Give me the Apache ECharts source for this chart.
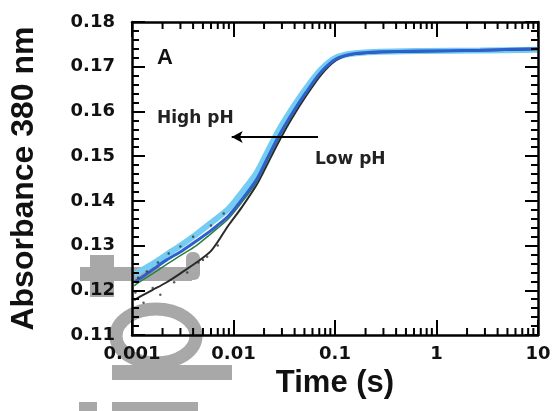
<!DOCTYPE html>
<html>
<head>
<meta charset="utf-8">
<script src="https://cdn.jsdelivr.net/npm/echarts@6/dist/echarts.min.js"></script>
<style>
  html, body { margin: 0; padding: 0; background: #fff; }
  #chart { width: 555px; height: 411px; }
</style>
</head>
<body>
<div id="chart"></div>
<script>
// time points (s)
const times = [0.00105, 0.00125, 0.00157, 0.0022, 0.0031, 0.0043, 0.0061, 0.0089, 0.012, 0.0168,
  0.0211, 0.0276, 0.037, 0.052, 0.073, 0.102, 0.144, 0.25, 0.7, 2.7, 9.8]

// absorbance traces, high pH -> low pH
const highPh = [0.1235, 0.1245, 0.1258, 0.1280, 0.1302, 0.1325, 0.1352, 0.1382, 0.1418, 0.1462,
  0.1505, 0.1556, 0.1603, 0.1652, 0.1694, 0.1720, 0.1729, 0.1733, 0.1735, 0.1736, 0.1738]
const midPh = [0.1218, 0.1229, 0.1245, 0.1268, 0.1288, 0.1310, 0.1335, 0.1366, 0.1402, 0.1447,
  0.1491, 0.1543, 0.1592, 0.1643, 0.1688, 0.1717, 0.1728, 0.1733, 0.1735, 0.1737, 0.1740]
const midLowPh = [0.1210, 0.1222, 0.1236, 0.1258, 0.1280, 0.1300, 0.1328, 0.1360, 0.1396, 0.1441,
  0.1486, 0.1538, 0.1588, 0.1640, 0.1686, 0.1716, 0.1728, 0.1733, 0.1735, 0.1737, 0.1741]
const lowPh = [0.1178, 0.1188, 0.1200, 0.1218, 0.1240, 0.1262, 0.1290, 0.1345, 0.1385, 0.1435,
  0.1478, 0.1530, 0.1582, 0.1635, 0.1682, 0.1714, 0.1727, 0.1732, 0.1734, 0.1736, 0.1739]

// scattered noisy readings at early times
const noiseTimes = [0.00108, 0.00115, 0.0013, 0.0014, 0.0016, 0.0018, 0.0019, 0.0023, 0.0026,
  0.003, 0.0035, 0.004, 0.0045, 0.005, 0.0055, 0.006, 0.007, 0.008]
const noiseAbs = [0.1195, 0.1228, 0.1172, 0.1242, 0.1205, 0.1262, 0.1190, 0.1282, 0.1218,
  0.1298, 0.1240, 0.1320, 0.1262, 0.1268, 0.1275, 0.1345, 0.1300, 0.1372]

const yTicks = ['0.11', '0.12', '0.13', '0.14', '0.15', '0.16', '0.17', '0.18']
const xTicks = ['0.001', '0.01', '0.1', '1', '10']
const xMinorTicks = [0.002, 0.003, 0.004, 0.005, 0.006, 0.007, 0.008, 0.009,
  0.02, 0.03, 0.04, 0.05, 0.06, 0.07, 0.08, 0.09,
  0.2, 0.3, 0.4, 0.5, 0.6, 0.7, 0.8, 0.9,
  2, 3, 4, 5, 6, 7, 8, 9]

// arrow from low pH side to high pH side
const arrowFrom = [0.068, 0.1543]
const arrowTo = [0.0096, 0.1543]

const pair = (ys, xs = times) => xs.map((t, i) => [t, ys[i]])

const chart = echarts.init(document.getElementById('chart'), null, { renderer: 'canvas' })

const tickFont = 'DejaVu Sans'
const titleFont = 'Liberation Sans'
const wm = '#a8a8a8'

const lineSeries = (name, ys, color, width) => ({
  name,
  type: 'line',
  data: pair(ys),
  smooth: 0.3,
  showSymbol: false,
  lineStyle: { color, width },
  z: 3
})

chart.setOption({
  animation: false,
  backgroundColor: '#fff',
  grid: { left: 130, right: 17, top: 22, bottom: 76 },
  xAxis: [
    {
      type: 'log',
      min: 0.001,
      max: 10,
      logBase: 10,
      z: 10,
      name: 'Time (s)',
      nameLocation: 'middle',
      nameGap: 30,
      nameTextStyle: { fontFamily: titleFont, fontWeight: 'bold', fontSize: 31, color: '#111' },
      axisLine: { lineStyle: { color: '#000', width: 2.5 } },
      axisTick: { inside: true, length: 15, lineStyle: { color: '#000', width: 2 } },
      axisLabel: {
        margin: 10,
        fontFamily: tickFont,
        fontWeight: 'bold',
        fontSize: 18,
        color: '#111',
        formatter: (v) => xTicks.find((s) => Math.abs(parseFloat(s) - v) < v * 1e-6) || ''
      },
      splitLine: { show: false }
    },
    {
      type: 'log',
      min: 0.001,
      max: 10,
      logBase: 10,
      z: 10,
      position: 'top',
      axisLine: { lineStyle: { color: '#000', width: 2.5 } },
      axisTick: { inside: true, length: 15, lineStyle: { color: '#000', width: 2 } },
      axisLabel: { show: false },
      splitLine: { show: false }
    }
  ],
  yAxis: [
    {
      type: 'value',
      min: 0.11,
      max: 0.18,
      interval: 0.01,
      z: 10,
      name: 'Absorbance 380 nm',
      nameLocation: 'middle',
      nameRotate: 90,
      nameGap: 92,
      nameTextStyle: { fontFamily: titleFont, fontWeight: 'bold', fontSize: 32, color: '#111' },
      axisLine: { show: true, lineStyle: { color: '#000', width: 2.5 } },
      axisTick: { show: true, inside: true, length: 13, lineStyle: { color: '#000', width: 2 } },
      minorTick: { show: true, splitNumber: 5, length: 7, lineStyle: { color: '#000', width: 2 } },
      axisLabel: {
        margin: 17,
        padding: [0, 0, 8, 0],
        fontFamily: tickFont,
        fontWeight: 'bold',
        fontSize: 18,
        color: '#111',
        formatter: (v) => yTicks[Math.round((v - 0.11) / 0.01)]
      },
      splitLine: { show: false }
    },
    {
      type: 'value',
      min: 0.11,
      max: 0.18,
      interval: 0.01,
      z: 10,
      position: 'right',
      axisLine: { show: true, lineStyle: { color: '#000', width: 2.5 } },
      axisTick: { show: true, inside: true, length: 13, lineStyle: { color: '#000', width: 2 } },
      minorTick: { show: true, splitNumber: 5, length: 7, lineStyle: { color: '#000', width: 2 } },
      axisLabel: { show: false },
      splitLine: { show: false }
    }
  ],
  graphic: [
    // grey watermark, kept under the axes
    { type: 'rect', z: 0, shape: { x: 90, y: 255, width: 24, height: 42 }, style: { fill: wm } },
    { type: 'rect', z: 0, shape: { x: 80, y: 267, width: 112, height: 14 }, style: { fill: wm } },
    { type: 'rect', z: 0, shape: { x: 186, y: 252, width: 14, height: 28, r: 6 }, style: { fill: wm } },
    { type: 'ellipse', z: 0, shape: { cx: 156, cy: 336, rx: 40, ry: 27 }, style: { fill: 'none', stroke: wm, lineWidth: 13 } },
    { type: 'rect', z: 0, shape: { x: 112, y: 365, width: 120, height: 15 }, style: { fill: wm } },
    { type: 'rect', z: 0, shape: { x: 79, y: 402, width: 18, height: 12 }, style: { fill: wm } },
    { type: 'rect', z: 0, shape: { x: 112, y: 402, width: 86, height: 12 }, style: { fill: wm } },
    // annotations
    { type: 'text', left: 157, top: 47, z: 20, style: { text: 'A', fontFamily: titleFont, fontWeight: 'bold', fontSize: 22, fill: '#111' } },
    { type: 'text', left: 157, top: 110, z: 20, style: { text: 'High pH', fontFamily: tickFont, fontWeight: 'bold', fontSize: 17, fill: '#222' } },
    { type: 'text', left: 315, top: 151, z: 20, style: { text: 'Low pH', fontFamily: tickFont, fontWeight: 'bold', fontSize: 17, fill: '#222' } }
  ],
  series: [
    lineSeries('high pH', highPh, '#74ccf2', 6),
    lineSeries('low pH', lowPh, '#2a2a2a', 2),
    lineSeries('mid low pH', midLowPh, '#2a7f3c', 1.5),
    {
      ...lineSeries('mid pH', midPh, '#2d5fcf', 3),
      markLine: {
        silent: true,
        symbol: ['none', 'arrow'],
        symbolSize: [9, 11],
        label: { show: false },
        lineStyle: { color: '#000', width: 2, type: 'solid' },
        data: [[{ coord: arrowFrom }, { coord: arrowTo }]]
      }
    },
    {
      name: 'noise',
      type: 'scatter',
      data: pair(noiseAbs, noiseTimes),
      symbolSize: 2.5,
      itemStyle: { color: '#333' },
      z: 4
    },
    {
      name: 'minor ticks',
      type: 'custom',
      silent: true,
      clip: false,
      z: 11,
      data: xMinorTicks.map((v) => [v]),
      renderItem: (params, api) => {
        const v = api.value(0)
        const bottom = api.coord([v, 0.11])
        const top = api.coord([v, 0.18])
        const len = 7
        const style = { stroke: '#000', lineWidth: 2 }
        return {
          type: 'group',
          children: [
            { type: 'line', shape: { x1: bottom[0], y1: bottom[1], x2: bottom[0], y2: bottom[1] - len }, style },
            { type: 'line', shape: { x1: top[0], y1: top[1], x2: top[0], y2: top[1] + len }, style }
          ]
        }
      }
    }
  ]
})
</script>
</body>
</html>
